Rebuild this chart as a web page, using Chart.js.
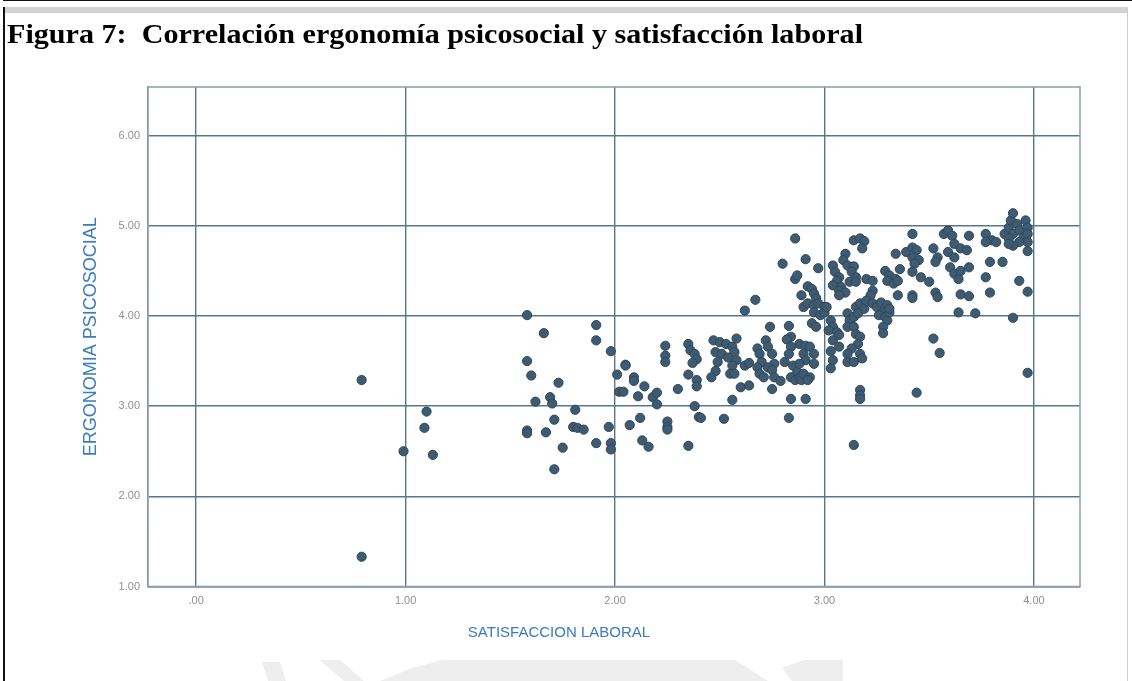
<!DOCTYPE html>
<html>
<head>
<meta charset="utf-8">
<script src="https://cdn.jsdelivr.net/npm/chart.js@4.4.1/dist/chart.umd.min.js"></script>
<style>
  html, body { margin: 0; padding: 0; background: #fff; }
  #wrap { position: relative; width: 1132px; height: 681px; }
</style>
</head>
<body>
<div id="wrap"><canvas id="scatterChart" width="1132" height="681"></canvas></div>
<script>
// --- datos ---
const satisfaccion = [
  0.79, 0.79, 0.99, 1.10, 1.09, 1.13,
  1.58, 1.66, 1.58, 1.60, 1.73, 1.62, 1.69, 1.70, 1.81, 1.71, 1.58, 1.58, 1.67, 1.80, 1.82, 1.85, 1.75, 1.71, 1.91, 1.91, 1.91,
  1.98, 2.05, 2.05, 2.24, 2.24, 2.24, 2.35, 2.01, 2.09, 2.09, 2.14, 2.11, 2.18, 2.20, 2.20, 2.30, 2.35, 2.39, 2.02, 2.04, 2.38,
  2.12, 2.07, 1.97, 1.98, 1.98, 2.13, 2.16, 2.25, 2.25, 2.25, 2.35, 2.40,
  2.36, 2.38, 2.39, 2.37, 2.39, 2.41, 2.52,
  2.47, 2.50, 2.48, 2.51, 2.49, 2.48, 2.46,
  2.53, 2.56, 2.57, 2.54, 2.58, 2.56, 2.55, 2.57, 2.58,
  2.60, 2.64, 2.56, 2.62, 2.64, 2.62, 2.67,
  2.68, 2.69, 2.70, 2.68, 2.69, 2.71,
  2.72, 2.73, 2.74, 2.75, 2.76, 2.73, 2.75, 2.76, 2.79, 2.75, 2.80,
  2.83, 2.84, 2.82, 2.84, 2.83, 2.81, 2.85, 2.87, 2.84, 2.86, 2.88, 2.89,
  2.86, 2.84, 2.91, 2.83, 2.86, 2.87, 2.89, 2.91,
  2.88, 2.91, 2.90, 2.93, 2.95, 2.91, 2.88, 2.90, 2.93, 2.95, 2.92,
  2.92, 2.94, 2.95, 2.96, 2.97,
  2.90, 2.92, 2.95, 2.97, 3.00, 2.95, 2.98, 2.94, 2.96, 3.00, 3.01,
  3.03, 3.04, 3.02, 3.06, 3.07, 3.04, 3.07, 3.03, 3.04, 3.03,
  3.04, 3.05, 3.07, 3.06, 3.04, 3.08, 3.07, 3.10, 3.07,
  3.10, 3.09, 3.11, 3.14, 3.13, 3.15, 3.12, 3.15,
  3.14, 3.17, 3.19, 3.18,
  3.11, 3.12, 3.11, 3.14, 3.15, 3.17, 3.19, 3.16, 3.14, 3.15, 3.17, 3.16, 3.13, 3.11, 3.11, 3.14, 3.17, 3.18,
  3.17, 3.17, 3.17, 3.14,
  3.20, 3.23, 3.23, 3.22,
  3.20, 3.23, 3.25, 3.27, 3.30, 3.28, 3.26, 3.29, 3.30, 3.28, 3.31, 3.31, 3.28,
  3.29, 3.31, 3.34, 3.30, 3.33, 3.35, 3.36,
  3.34, 3.35, 3.42, 3.42,
  3.42, 3.39, 3.42, 3.44, 3.42, 3.45, 3.43,
  3.42, 3.46, 3.50,
  3.52, 3.55, 3.44,
  3.52, 3.54, 3.53, 3.57, 3.59, 3.61,
  3.53, 3.54,
  3.59, 3.62, 3.65, 3.62, 3.60, 3.62, 3.64, 3.65, 3.68, 3.69, 3.69,
  3.65, 3.69, 3.64, 3.72,
  3.77, 3.80, 3.82, 3.77, 3.86, 3.88, 3.89, 3.90, 3.92, 3.90, 3.88, 3.93, 3.96, 3.97, 3.95, 3.97, 3.97, 3.93, 3.90, 3.88,
  3.79, 3.85, 3.77, 3.79, 3.93, 3.97, 3.97, 3.90, 3.97
];
const ergonomia = [
  3.29, 1.33, 2.50, 2.94, 2.76, 2.46,
  4.01, 3.81, 3.50, 3.34, 3.26, 3.05, 3.10, 3.03, 2.96, 2.85, 2.73, 2.70, 2.71, 2.77, 2.76, 2.74, 2.54, 2.30, 2.59, 3.90, 3.73,
  3.61, 3.46, 3.45, 3.67, 3.56, 3.49, 3.69, 3.35, 3.32, 3.28, 3.22, 3.11, 3.10, 3.15, 3.02, 3.19, 3.35, 3.29, 3.16, 3.16, 3.00,
  2.87, 2.79, 2.77, 2.59, 2.52, 2.62, 2.55, 2.83, 2.77, 2.74, 2.56, 2.88,
  3.62, 3.58, 3.52, 3.48, 3.22, 2.87, 2.86,
  3.73, 3.71, 3.60, 3.58, 3.49, 3.39, 3.32,
  3.69, 3.66, 3.60, 3.54, 3.51, 3.45, 3.36, 3.36, 3.75,
  3.21, 3.23, 3.07, 3.45, 3.48, 4.06, 4.18,
  3.64, 3.58, 3.49, 3.43, 3.36, 3.32,
  3.73, 3.66, 3.88, 3.58, 3.47, 3.43, 3.40, 3.32, 3.28, 3.19, 4.58,
  3.89, 3.77, 3.74, 3.66, 3.58, 3.49, 3.45, 3.38, 3.32, 3.29, 3.31, 3.29,
  4.86, 3.08, 3.08, 2.87, 4.41, 4.45, 4.23, 4.63,
  3.69, 3.67, 3.58, 3.66, 3.58, 3.51, 3.47, 3.36, 3.32, 3.47, 3.29,
  4.33, 4.30, 4.25, 4.20, 4.53,
  4.10, 4.14, 4.12, 4.14, 4.10, 4.04, 4.01, 3.92, 3.88, 4.04, 4.10,
  3.95, 3.88, 3.84, 3.82, 3.79, 3.73, 3.66, 3.61, 3.51, 3.42,
  4.56, 4.49, 4.43, 4.39, 4.34, 4.32, 4.28, 4.26, 4.23,
  4.69, 4.62, 4.56, 4.55, 4.49, 4.43, 4.38, 4.38,
  4.84, 4.86, 4.83, 4.75,
  4.03, 3.95, 3.88, 3.99, 4.10, 4.14, 4.08, 4.03, 3.88, 3.80, 3.77, 3.69, 3.64, 3.58, 3.49, 3.49, 3.58, 3.53,
  3.18, 3.12, 3.08, 2.57,
  4.41, 4.39, 4.28, 4.23,
  4.17, 4.14, 4.10, 4.15, 4.12, 4.04, 4.01, 3.99, 3.95, 3.88, 4.04, 4.08, 3.81,
  4.50, 4.45, 4.41, 4.39, 4.36, 4.39, 4.52,
  4.69, 4.23, 4.23, 4.20,
  4.91, 4.71, 4.76, 4.73, 4.65, 4.62, 4.58,
  4.49, 4.43, 4.38,
  3.75, 3.59, 3.15,
  4.75, 4.65, 4.60, 4.91, 4.95, 4.89,
  4.26, 4.21,
  4.71, 4.80, 4.75, 4.65, 4.54, 4.47, 4.41, 4.50, 4.73, 4.89, 4.54,
  4.24, 4.22, 4.04, 4.03,
  4.91, 4.84, 4.82, 4.82, 4.91, 4.98, 5.06, 5.14, 5.02, 4.91, 4.86, 4.95, 5.06, 4.98, 4.87, 4.91, 4.82, 4.82, 4.78, 4.80,
  4.60, 4.60, 4.43, 4.26, 4.39, 4.72, 4.27, 3.98, 3.37
];
const xTicks = [0, 1, 2, 3, 4];
const yTicks = [1, 2, 3, 4, 5, 6];

const titulo = 'Figura 7:  Correlación ergonomía psicosocial y satisfacción laboral';
const tituloX = 'SATISFACCION LABORAL';
const tituloY = 'ERGONOMIA PSICOSOCIAL';

// colores
const azulTitulo = '#3b7cbd';
const colorGrid = '#56778f';
const colorBorde = '#8c9cab';
const colorTicks = '#909090';

function fmt(v) {
  return v === 0 ? '.00' : v.toFixed(2);
}

// marco de la pagina, marca de agua, titulo y bordes del area
const decor = {
  id: 'decor',
  beforeDraw(chart) {
    const c = chart.ctx;
    c.save();
    c.fillStyle = '#fff';
    c.fillRect(0, 0, chart.width, chart.height);
    // marca de agua tenue abajo
    c.fillStyle = '#eeeeee';
    const shapes = [
      [[262, 662], [280, 662], [286, 681], [268, 681]],
      [[320, 660], [340, 660], [364, 681], [344, 681]],
      [[412, 668], [442, 660], [735, 660], [768, 681], [380, 681]],
      [[782, 668], [804, 660], [843, 660], [843, 681], [792, 681]]
    ];
    shapes.forEach(s => {
      c.beginPath();
      c.moveTo(s[0][0], s[0][1]);
      s.slice(1).forEach(p => c.lineTo(p[0], p[1]));
      c.closePath();
      c.fill();
    });
    // marco
    c.fillStyle = '#111';
    c.fillRect(3, 0, 1129, 1);
    c.fillStyle = '#d2d2d2';
    c.fillRect(4, 7, 1124, 6);
    c.fillStyle = '#111';
    c.fillRect(3, 7, 2, 674);
    c.fillStyle = '#cfcfcf';
    c.fillRect(1127, 7, 1, 674);
    c.restore();
  },
  afterDraw(chart) {
    const c = chart.ctx;
    const a = chart.chartArea;
    c.save();
    c.strokeStyle = colorBorde;
    c.lineWidth = 1.5;
    c.strokeRect(a.left, a.top, a.right - a.left, a.bottom - a.top);

    // titulo de la figura (Times negrita, algo comprimido)
    c.fillStyle = '#000';
    c.font = 'bold 27px "Liberation Serif", "Times New Roman", serif';
    c.textBaseline = 'alphabetic';
    c.textAlign = 'left';
    const w = c.measureText(titulo).width;
    c.translate(7, 43);
    c.scale(856 / w, 1);
    c.fillText(titulo, 0, 0);
    c.restore();

    // titulo del eje x
    c.save();
    c.fillStyle = azulTitulo;
    c.font = '15px "Liberation Sans", Arial, sans-serif';
    c.textAlign = 'center';
    c.textBaseline = 'middle';
    c.fillText(tituloX, 559, 633);
    c.restore();
  }
};

const ctx = document.getElementById('scatterChart').getContext('2d');

new Chart(ctx, {
  type: 'scatter',
  data: {
    datasets: [{
      data: satisfaccion.map((x, i) => ({ x: x, y: ergonomia[i] })),
      pointRadius: 4.6,
      pointHoverRadius: 4.6,
      backgroundColor: '#3e5b71',
      borderColor: '#30475a',
      borderWidth: 1
    }]
  },
  options: {
    responsive: false,
    animation: false,
    layout: { padding: { top: 87, right: 52, bottom: 0, left: 0 } },
    plugins: {
      legend: { display: false },
      tooltip: { enabled: false }
    },
    scales: {
      x: {
        type: 'linear',
        min: -0.23,
        max: 4.22,
        afterBuildTicks: s => { s.ticks = xTicks.map(v => ({ value: v })); },
        afterFit: s => { s.height = 94.5; },
        grid: { color: colorGrid, lineWidth: 1.4, drawTicks: false },
        border: { color: colorBorde, width: 1.5 },
        ticks: {
          padding: 8,
          color: colorTicks,
          font: { family: '"Liberation Sans", Arial, sans-serif', size: 11 },
          callback: fmt
        }
      },
      y: {
        type: 'linear',
        min: 1,
        max: 6.54,
        afterBuildTicks: s => { s.ticks = yTicks.map(v => ({ value: v })); },
        afterFit: s => { s.width = 148; },
        grid: { color: colorGrid, lineWidth: 1.4, drawTicks: false },
        border: { color: colorBorde, width: 1.5 },
        ticks: {
          padding: 8,
          color: colorTicks,
          font: { family: '"Liberation Sans", Arial, sans-serif', size: 11 },
          callback: fmt
        },
        title: {
          display: true,
          text: tituloY,
          color: azulTitulo,
          font: { family: '"Liberation Sans", Arial, sans-serif', size: 18 },
          padding: { top: 80, bottom: 0 }
        }
      }
    }
  },
  plugins: [decor]
});
</script>
</body>
</html>
